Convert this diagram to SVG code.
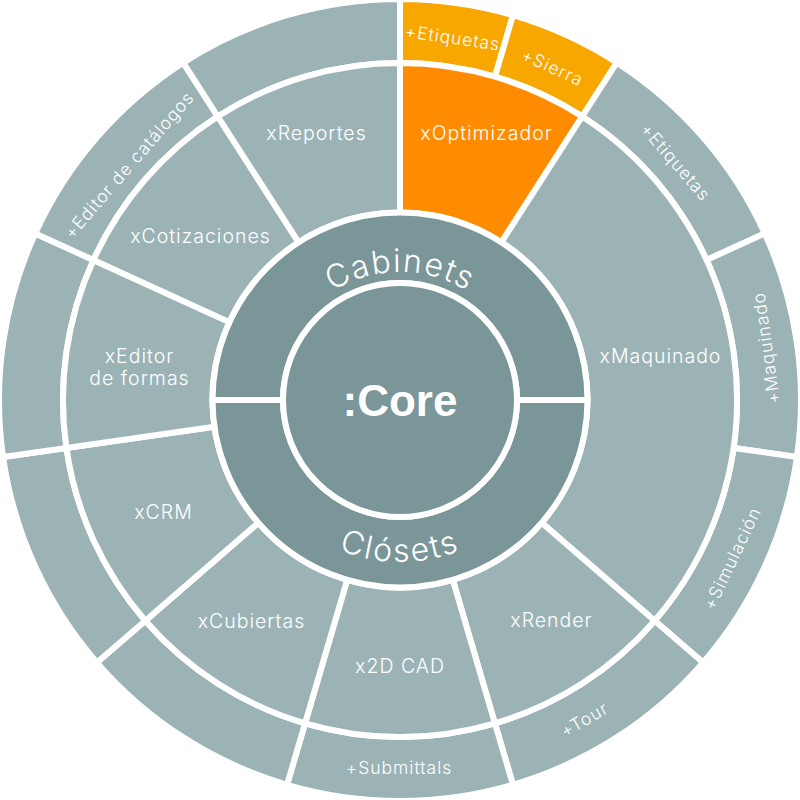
<svg xmlns="http://www.w3.org/2000/svg" width="800" height="800" viewBox="0 0 800 800">
<style>
.seg{fill:#9cb3b6;stroke:#fff;stroke-width:6;stroke-linejoin:miter}
.core{fill:#7a9699;stroke:#fff;stroke-width:6}
.org{fill:#ff8c00}
.lorg{fill:#f8a600}
text{fill:#fff;font-family:Inter,"Liberation Sans",Arial,sans-serif;font-weight:300}
.ml{font-size:19.5px;text-anchor:middle;letter-spacing:1px}
.ol{font-size:17.5px;text-anchor:middle;letter-spacing:1px}
.ring{font-size:32px;text-anchor:middle;letter-spacing:1.5px}
.ring2{font-size:32px;text-anchor:middle;letter-spacing:2.2px}
.big{font-family:"Liberation Sans",Arial,sans-serif;font-weight:bold;font-size:44px;text-anchor:middle}
</style>
<defs>
<path id="arcTop" d="M272,400 A128,128 0 0 1 528,400"/>
<path id="arcBot" d="M238,400 A162,162 0 0 0 562,400"/>
</defs>
<rect width="800" height="800" fill="#fff"/>
<g id="outer-ring">
<g id="o-etiquetas1"><path class="seg lorg" d="M400,-1 A401,401 0 0 1 512.97,15.24 L494.94,76.65 A337,337 0 0 0 400,63 Z"/><text class="ol" transform="translate(452.6,37.7) rotate(8.18)" dy="0.35em">+Etiquetas</text></g>
<g id="o-sierra"><path class="seg lorg" d="M512.97,15.24 A401,401 0 0 1 616.8,62.66 L582.2,116.5 A337,337 0 0 0 494.94,76.65 Z"/><text class="ol" transform="translate(552.5,67.3) rotate(24.55)" dy="0.35em">+Sierra</text></g>
<g id="o-etiquetas2"><path class="seg" d="M616.8,62.66 A401,401 0 0 1 764.76,233.42 L706.55,260 A337,337 0 0 0 582.2,116.5 Z"/><text class="ol" transform="translate(675.5,162) rotate(49.09)" dy="0.35em">+Etiquetas</text></g>
<g id="o-maquinado"><path class="seg" d="M764.76,233.42 A401,401 0 0 1 796.92,457.07 L733.57,447.96 A337,337 0 0 0 706.55,260 Z"/><text class="ol" transform="translate(766.2,348) rotate(-98.18)" dy="0.35em">+Maquinado</text></g>
<g id="o-simulacion"><path class="seg" d="M796.92,457.07 A401,401 0 0 1 703.06,662.6 L654.69,620.69 A337,337 0 0 0 733.57,447.96 Z"/><text class="ol" transform="translate(732.1,558.4) rotate(-64.5)" dy="0.35em">+Simulación</text></g>
<g id="o-tour"><path class="seg" d="M703.06,662.6 A401,401 0 0 1 512.97,784.76 L494.94,723.35 A337,337 0 0 0 654.69,620.69 Z"/><text class="ol" transform="translate(584.5,719.6) rotate(-30)" dy="0.35em">+Tour</text></g>
<g id="o-submittals"><path class="seg" d="M512.97,784.76 A401,401 0 0 1 287.03,784.76 L305.06,723.35 A337,337 0 0 0 494.94,723.35 Z"/><text class="ol" transform="translate(399,768)" dy="0.35em">+Submittals</text></g>
<g id="o-blank1"><path class="seg" d="M287.03,784.76 A401,401 0 0 1 96.94,662.6 L145.31,620.69 A337,337 0 0 0 305.06,723.35 Z"/></g>
<g id="o-blank2"><path class="seg" d="M96.94,662.6 A401,401 0 0 1 3.08,457.07 L66.43,447.96 A337,337 0 0 0 145.31,620.69 Z"/></g>
<g id="o-blank3"><path class="seg" d="M3.08,457.07 A401,401 0 0 1 35.24,233.42 L93.45,260 A337,337 0 0 0 66.43,447.96 Z"/></g>
<g id="o-editorcat"><path class="seg" d="M35.24,233.42 A401,401 0 0 1 183.2,62.66 L217.8,116.5 A337,337 0 0 0 93.45,260 Z"/><text class="ol" transform="translate(129,165) rotate(-49.09)" dy="0.35em">+Editor de catálogos</text></g>
<g id="o-blank4"><path class="seg" d="M183.2,62.66 A401,401 0 0 1 400,-1 L400,63 A337,337 0 0 0 217.8,116.5 Z"/></g>
</g>
<g id="middle-ring">
<g id="xOptimizador"><path class="seg org" d="M400,63 A337,337 0 0 1 582.2,116.5 L501.37,242.27 A187.5,187.5 0 0 0 400,212.5 Z"/><text class="ml" x="486.5" y="140">xOptimizador</text></g>
<g id="xMaquinado"><path class="seg" d="M582.2,116.5 A337,337 0 0 1 654.69,620.69 L541.7,522.79 A187.5,187.5 0 0 0 501.37,242.27 Z"/><text class="ml" x="660.5" y="363">xMaquinado</text></g>
<g id="xRender"><path class="seg" d="M654.69,620.69 A337,337 0 0 1 494.94,723.35 L452.82,579.9 A187.5,187.5 0 0 0 541.7,522.79 Z"/><text class="ml" x="551.5" y="627">xRender</text></g>
<g id="x2DCAD"><path class="seg" d="M494.94,723.35 A337,337 0 0 1 305.06,723.35 L347.18,579.9 A187.5,187.5 0 0 0 452.82,579.9 Z"/><text class="ml" x="400" y="673">x2D CAD</text></g>
<g id="xCubiertas"><path class="seg" d="M305.06,723.35 A337,337 0 0 1 145.31,620.69 L258.3,522.79 A187.5,187.5 0 0 0 347.18,579.9 Z"/><text class="ml" x="251.5" y="628">xCubiertas</text></g>
<g id="xCRM"><path class="seg" d="M145.31,620.69 A337,337 0 0 1 66.43,447.96 L214.41,426.68 A187.5,187.5 0 0 0 258.3,522.79 Z"/><text class="ml" x="163.5" y="519">xCRM</text></g>
<g id="xEditor"><path class="seg" d="M66.43,447.96 A337,337 0 0 1 93.45,260 L229.44,322.11 A187.5,187.5 0 0 0 214.41,426.68 Z"/><text class="ml" x="139.5" y="363">xEditor</text><text class="ml" x="139.5" y="385">de formas</text></g>
<g id="xCotizaciones"><path class="seg" d="M93.45,260 A337,337 0 0 1 217.8,116.5 L298.63,242.27 A187.5,187.5 0 0 0 229.44,322.11 Z"/><text class="ml" x="200.5" y="243">xCotizaciones</text></g>
<g id="xReportes"><path class="seg" d="M217.8,116.5 A337,337 0 0 1 400,63 L400,212.5 A187.5,187.5 0 0 0 298.63,242.27 Z"/><text class="ml" x="316.5" y="140">xReportes</text></g>
</g>
<g id="inner-ring">
<g id="cabinets"><path class="core" d="M212.5,400 A187.5,187.5 0 0 1 587.5,400 L517,400 A117,117 0 0 0 283,400 Z"/><text class="ring"><textPath href="#arcTop" startOffset="50%">Cabinets</textPath></text></g>
<g id="closets"><path class="core" d="M587.5,400 A187.5,187.5 0 0 1 212.5,400 L283,400 A117,117 0 0 0 517,400 Z"/><text class="ring2"><textPath href="#arcBot" startOffset="50%">Clósets</textPath></text></g>
</g>
<g id="core"><circle class="core" cx="400" cy="400" r="117"/><text class="big" x="400" y="416">:Core</text></g>
<g id="connectors"/>
</svg>
